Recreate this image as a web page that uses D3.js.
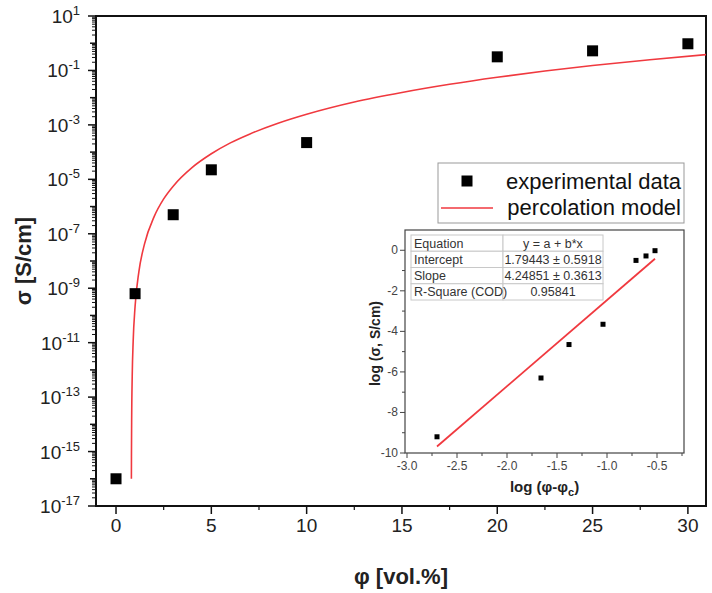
<!DOCTYPE html>
<html lang="en">
<head>
<meta charset="UTF-8">
<title>Conductivity vs filler content</title>
<script src="https://d3js.org/d3.v7.min.js"></script>
<style>
    body { margin: 0; background: #fff; }
    svg { display: block; font-family: "Liberation Sans", Arial, sans-serif; }
    .tick-label { font-size: 19px; fill: #222; }
    .axis-title { font-size: 22px; font-weight: bold; fill: #222; }
    .inset-label { font-size: 12px; fill: #444; }
    .legend-text { font-size: 22px; fill: #111; }
    .table-text { font-size: 12.5px; fill: #333; }
</style>
</head>
<body>
<svg id="chart"></svg>
<script>
// main plot data: filler content (vol.%) and log10 of conductivity (S/cm)
const phi = [0, 1, 3, 5, 10, 20, 25, 30];
const logSigma = [-16, -9.2, -6.3, -4.65, -3.65, -0.5, -0.28, -0.02];

// percolation model curve
const modelPhi = [0.8066, 0.81, 0.82, 0.85, 0.9, 1.0, 1.2, 1.5, 2, 2.5, 3, 4, 5, 6, 7, 8.5, 10, 12.5, 15, 17.5, 20, 22.5, 25, 28, 31];
const modelLogSigma = [-16.0, -15.2, -13.92, -12.23, -10.95, -9.67, -8.39, -7.36, -6.37, -5.72, -5.25, -4.56, -4.06, -3.66, -3.34, -2.94, -2.61, -2.16, -1.81, -1.51, -1.25, -1.02, -0.82, -0.61, -0.415];

const xTicks = [0, 5, 10, 15, 20, 25, 30];
const yTickExps = [1, -1, -3, -5, -7, -9, -11, -13, -15, -17];

// inset: log(phi - phi_c) vs log(sigma)
const insetLogPhi = [-2.7, -1.66, -1.38, -1.04, -0.71, -0.61, -0.52];
const insetLogSigma = [-9.2, -6.3, -4.65, -3.65, -0.5, -0.28, -0.02];
const fitX = [-2.7, -0.52];
const fitY = [-9.68, -0.42];
const insetXTicks = [-3.0, -2.5, -2.0, -1.5, -1.0, -0.5];
const insetYTicks = [0, -2, -4, -6, -8, -10];

const tableRows = [
    ["Equation", "y = a + b*x"],
    ["Intercept", "1.79443 \u00b1 0.5918"],
    ["Slope", "4.24851 \u00b1 0.3613"],
    ["R-Square (COD)", "0.95841"]
];

const W = 712, H = 593;
const svg = d3.select("#chart").attr("width", W).attr("height", H);

const plot = { left: 96, right: 706, top: 16, bottom: 506 };
const x = d3.scaleLinear().domain([-1.05, 30.95]).range([plot.left, plot.right]);
const y = d3.scaleLog().domain([1e-17, 1e1]).range([plot.bottom, plot.top]);

// x axis ticks (outward)
const xMinor = d3.range(2.5, 31, 5);
svg.selectAll(".xmaj").data(xTicks).join("line")
    .attr("x1", d => x(d)).attr("x2", d => x(d))
    .attr("y1", plot.bottom).attr("y2", plot.bottom + 8)
    .attr("stroke", "#111").attr("stroke-width", 1.5);
svg.selectAll(".xmin").data(xMinor).join("line")
    .attr("x1", d => x(d)).attr("x2", d => x(d))
    .attr("y1", plot.bottom).attr("y2", plot.bottom + 4)
    .attr("stroke", "#111").attr("stroke-width", 1.2);
svg.selectAll(".xlab").data(xTicks).join("text")
    .attr("class", "tick-label")
    .attr("x", d => x(d)).attr("y", 532)
    .attr("text-anchor", "middle")
    .text(d => d);

// y axis ticks: decades and log minors
const decades = d3.range(-17, 2);
svg.selectAll(".ydec").data(decades).join("line")
    .attr("x1", plot.left - (yTickExps.includes(0) ? 0 : 0))
    .attr("x2", d => plot.left - (yTickExps.includes(d) ? 8 : 6))
    .attr("y1", d => y(Math.pow(10, d))).attr("y2", d => y(Math.pow(10, d)))
    .attr("stroke", "#111").attr("stroke-width", 1.5);
const yMinor = [];
decades.slice(0, -1).forEach(e => {
    for (let m = 2; m <= 9; m++) yMinor.push(m * Math.pow(10, e));
});
svg.selectAll(".ymin").data(yMinor).join("line")
    .attr("x1", plot.left).attr("x2", plot.left - 4)
    .attr("y1", d => y(d)).attr("y2", d => y(d))
    .attr("stroke", "#111").attr("stroke-width", 1);

const ylab = svg.selectAll(".ylab").data(yTickExps).join("text")
    .attr("class", "tick-label")
    .attr("x", 80).attr("y", d => y(Math.pow(10, d)) + 7)
    .attr("text-anchor", "end");
ylab.append("tspan").text("10");
ylab.append("tspan").attr("dy", -8).attr("font-size", 13).text(d => d);

// frame
svg.append("rect")
    .attr("x", plot.left).attr("y", plot.top)
    .attr("width", plot.right - plot.left).attr("height", plot.bottom - plot.top)
    .attr("fill", "none").attr("stroke", "#111").attr("stroke-width", 2);

// model curve
const modelPts = modelPhi.map((p, i) => [p, Math.pow(10, modelLogSigma[i])]);
const clipId = "mainclip";
svg.append("clipPath").attr("id", clipId).append("rect")
    .attr("x", plot.left).attr("y", plot.top)
    .attr("width", plot.right - plot.left).attr("height", plot.bottom - plot.top);
svg.append("path")
    .datum(modelPts)
    .attr("clip-path", `url(#${clipId})`)
    .attr("fill", "none").attr("stroke", "#f0393f").attr("stroke-width", 1.6)
    .attr("d", d3.line().x(d => x(d[0])).y(d => y(d[1])).curve(d3.curveMonotoneX));

// experimental points
const sq = 11;
svg.selectAll(".pt").data(phi.map((p, i) => [p, Math.pow(10, logSigma[i])])).join("rect")
    .attr("x", d => x(d[0]) - sq / 2).attr("y", d => y(d[1]) - sq / 2)
    .attr("width", sq).attr("height", sq).attr("fill", "#000");

// axis titles
svg.append("text").attr("class", "axis-title")
    .attr("x", (plot.left + plot.right) / 2).attr("y", 584)
    .attr("text-anchor", "middle").text("\u03c6 [vol.%]");
svg.append("text").attr("class", "axis-title")
    .attr("transform", `translate(31,${(plot.top + plot.bottom) / 2}) rotate(-90)`)
    .attr("text-anchor", "middle").text("\u03c3 [S/cm]");

// legend
const leg = svg.append("g");
leg.append("rect").attr("x", 438).attr("y", 163).attr("width", 246).attr("height", 60)
    .attr("fill", "#fff").attr("stroke", "#999").attr("stroke-width", 1);
leg.append("rect").attr("x", 467 - sq / 2).attr("y", 181 - sq / 2)
    .attr("width", sq).attr("height", sq).attr("fill", "#000");
leg.append("line").attr("x1", 441).attr("x2", 493).attr("y1", 208).attr("y2", 208)
    .attr("stroke", "#f0393f").attr("stroke-width", 1.6);
leg.append("text").attr("class", "legend-text").attr("x", 681).attr("y", 189)
    .attr("text-anchor", "end").text("experimental data");
leg.append("text").attr("class", "legend-text").attr("x", 681).attr("y", 215)
    .attr("text-anchor", "end").text("percolation model");

// inset
const ins = { left: 405, right: 684, top: 230, bottom: 453 };
const ix = d3.scaleLinear().domain([-3.02, -0.23]).range([ins.left, ins.right]);
const iy = d3.scaleLinear().domain([-10, 1]).range([ins.bottom, ins.top]);
const g = svg.append("g");
g.append("rect").attr("x", ins.left).attr("y", ins.top)
    .attr("width", ins.right - ins.left).attr("height", ins.bottom - ins.top)
    .attr("fill", "#fff").attr("stroke", "#444").attr("stroke-width", 1.2);

g.selectAll(".ixt").data(insetXTicks).join("line")
    .attr("x1", d => ix(d)).attr("x2", d => ix(d))
    .attr("y1", ins.bottom).attr("y2", ins.bottom + 5)
    .attr("stroke", "#444");
g.selectAll(".ixm").data(d3.range(-2.75, -0.2, 0.5)).join("line")
    .attr("x1", d => ix(d)).attr("x2", d => ix(d))
    .attr("y1", ins.bottom).attr("y2", ins.bottom + 3)
    .attr("stroke", "#444");
g.selectAll(".ixl").data(insetXTicks).join("text")
    .attr("class", "inset-label")
    .attr("x", d => ix(d)).attr("y", ins.bottom + 17)
    .attr("text-anchor", "middle").text(d => d.toFixed(1));

g.selectAll(".iyt").data(insetYTicks).join("line")
    .attr("x1", ins.left).attr("x2", ins.left - 5)
    .attr("y1", d => iy(d)).attr("y2", d => iy(d))
    .attr("stroke", "#444");
g.selectAll(".iym").data(d3.range(-9, 1, 2)).join("line")
    .attr("x1", ins.left).attr("x2", ins.left - 3)
    .attr("y1", d => iy(d)).attr("y2", d => iy(d))
    .attr("stroke", "#444");
g.selectAll(".iyl").data(insetYTicks).join("text")
    .attr("class", "inset-label")
    .attr("x", ins.left - 7).attr("y", d => iy(d) + 4)
    .attr("text-anchor", "end").text(d => d);

g.append("text").attr("font-size", 15).attr("font-weight", "bold").attr("fill", "#222")
    .attr("x", (ins.left + ins.right) / 2 - 0).attr("y", 492)
    .attr("text-anchor", "middle")
    .call(t => {
        t.append("tspan").text("log (\u03c6-\u03c6");
        t.append("tspan").attr("dy", 4).attr("font-size", 11).text("c");
        t.append("tspan").attr("dy", -4).text(")");
    });
g.append("text").attr("font-size", 14).attr("font-weight", "bold").attr("fill", "#222")
    .attr("transform", `translate(380,${(ins.top + ins.bottom) / 2 + 2}) rotate(-90)`)
    .attr("text-anchor", "middle").text("log (\u03c3, S/cm)");

// fit line and points
g.append("line")
    .attr("x1", ix(fitX[0])).attr("y1", iy(fitY[0]))
    .attr("x2", ix(fitX[1])).attr("y2", iy(fitY[1]))
    .attr("stroke", "#f0393f").attr("stroke-width", 1.8);
g.selectAll(".ipt").data(insetLogPhi.map((p, i) => [p, insetLogSigma[i]])).join("rect")
    .attr("x", d => ix(d[0]) - 2.5).attr("y", d => iy(d[1]) - 2.5)
    .attr("width", 5).attr("height", 5).attr("fill", "#000");

// results table
const tb = { left: 411, split: 503, right: 603, top: 235, rowH: 16.25 };
tableRows.forEach((r, i) => {
    const ty = tb.top + i * tb.rowH;
    g.append("rect").attr("x", tb.left).attr("y", ty)
        .attr("width", tb.split - tb.left).attr("height", tb.rowH)
        .attr("fill", "#fff").attr("stroke", "#c8c8c8");
    g.append("rect").attr("x", tb.split).attr("y", ty)
        .attr("width", tb.right - tb.split).attr("height", tb.rowH)
        .attr("fill", "#fff").attr("stroke", "#c8c8c8");
    g.append("text").attr("class", "table-text")
        .attr("x", tb.left + 3).attr("y", ty + 12.5).text(r[0]);
    g.append("text").attr("class", "table-text")
        .attr("x", (tb.split + tb.right) / 2).attr("y", ty + 12.5)
        .attr("text-anchor", "middle").text(r[1]);
});
</script>
</body>
</html>
